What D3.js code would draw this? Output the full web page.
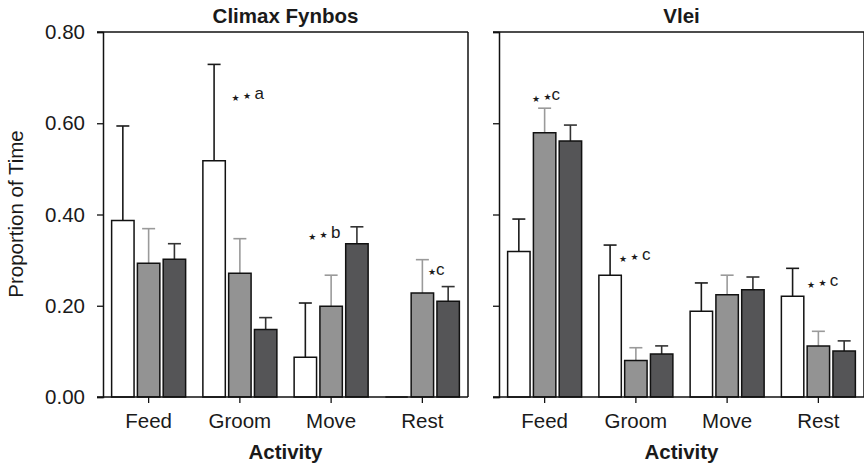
<!DOCTYPE html>
<html>
<head>
<meta charset="utf-8">
<script src="https://cdn.jsdelivr.net/npm/d3@7"></script>
<style>
  body { margin: 0; background: #fff; }
  svg { display: block; }
  text { font-family: "Liberation Sans", Arial, sans-serif; fill: #1a1a1a; }
</style>
</head>
<body>
<div id="chart"></div>
<script>
// categories and tick labels
var categories = ["Feed", "Groom", "Move", "Rest"];
var yTicks = [0, 0.2, 0.4, 0.6, 0.8];
var panelTitles = ["Climax Fynbos", "Vlei"];

// Climax Fynbos: mean proportion of time and upper error, three groups
var fynbosWhite = [0.387, 0.518, 0.087, 0.000];
var fynbosGray = [0.293, 0.271, 0.199, 0.228];
var fynbosDark = [0.302, 0.148, 0.336, 0.210];
var fynbosWhiteErr = [0.207, 0.211, 0.119, 0.000];
var fynbosGrayErr = [0.076, 0.076, 0.068, 0.073];
var fynbosDarkErr = [0.034, 0.026, 0.037, 0.032];

// Vlei
var vleiWhite = [0.319, 0.267, 0.188, 0.221];
var vleiGray = [0.579, 0.080, 0.224, 0.112];
var vleiDark = [0.561, 0.094, 0.235, 0.101];
var vleiWhiteErr = [0.071, 0.066, 0.062, 0.061];
var vleiGrayErr = [0.054, 0.028, 0.043, 0.032];
var vleiDarkErr = [0.035, 0.018, 0.028, 0.022];

// significance notes: category, bar it sits by, value of its baseline
var fynbosNotes = [
    {cat: "Groom", bar: 0, value: 0.644, text: "* * a"},
    {cat: "Move", bar: 1, value: 0.340, text: "* * b"},
    {cat: "Rest", bar: 1, value: 0.264, text: "*c"}
];
var vleiNotes = [
    {cat: "Feed", bar: 1, value: 0.642, text: "* *c"},
    {cat: "Groom", bar: 0, value: 0.2915, text: "* * c"},
    {cat: "Rest", bar: 0, value: 0.2345, text: "* * c"}
];
var fynbosNoteDx = [17.5, -23, 5.6];
var vleiNoteDx = [-12.6, 9, 14.4];

var fills = ["#ffffff", "#939393", "#555557"];
var errColors = ["#1a1a1a", "#9a9a9a", "#333333"];

var width = 864, height = 468;
var plotTop = 32, plotBottom = 397;
var panels = [
    {x0: 103, x1: 468, title: panelTitles[0],
     means: [fynbosWhite, fynbosGray, fynbosDark],
     errs: [fynbosWhiteErr, fynbosGrayErr, fynbosDarkErr],
     notes: fynbosNotes, noteDx: fynbosNoteDx, labels: true},
    {x0: 499, x1: 864, title: panelTitles[1],
     means: [vleiWhite, vleiGray, vleiDark],
     errs: [vleiWhiteErr, vleiGrayErr, vleiDarkErr],
     notes: vleiNotes, noteDx: vleiNoteDx, labels: false}
];

var svg = d3.select("#chart").append("svg")
    .attr("width", width)
    .attr("height", height);

var y = d3.scaleLinear().domain([0, 0.8]).range([plotBottom, plotTop]);
var xs = d3.scaleBand().domain([0, 1, 2]).range([-37, 37]).paddingInner(0.13);

panels.forEach(function(p) {
    var x = d3.scaleBand().domain(categories).range([p.x0, p.x1]);
    var g = svg.append("g");

    // bars
    var barData = [];
    categories.forEach(function(c, ci) {
        for (var s = 0; s < 3; s++) {
            barData.push({cat: c, s: s, v: p.means[s][ci], e: p.errs[s][ci]});
        }
    });
    function cx(d) { return x(d.cat) + x.bandwidth() / 2 + xs(d.s) + xs.bandwidth() / 2; }

    // error bars (upper only)
    var eb = g.selectAll(".err")
        .data(barData.filter(function(d) { return d.e > 0; }))
        .enter().append("g")
        .attr("class", "err")
        .style("stroke", function(d) { return errColors[d.s]; })
        .style("stroke-width", 1.6);
    eb.append("line")
        .attr("x1", cx).attr("x2", cx)
        .attr("y1", function(d) { return y(d.v); })
        .attr("y2", function(d) { return y(d.v + d.e); });
    eb.append("line")
        .attr("x1", function(d) { return cx(d) - 6.5; })
        .attr("x2", function(d) { return cx(d) + 6.5; })
        .attr("y1", function(d) { return y(d.v + d.e); })
        .attr("y2", function(d) { return y(d.v + d.e); });

    g.selectAll(".bar")
        .data(barData)
        .enter().append("path")
        .attr("class", "bar")
        .attr("d", function(d) {
            var xl = x(d.cat) + x.bandwidth() / 2 + xs(d.s);
            return "M" + xl + "," + y(0) + "V" + y(d.v) + "H" + (xl + xs.bandwidth()) + "V" + y(0) + "Z";
        })
        .style("fill", function(d) { return fills[d.s]; })
        .style("stroke", "#111")
        .style("stroke-width", 1.5);

    // frame
    g.append("line").attr("x1", p.x0 - 6).attr("x2", p.x1).attr("y1", plotTop).attr("y2", plotTop)
        .style("stroke", "#111").style("stroke-width", 1.5);
    g.append("line").attr("x1", p.x0 - 6).attr("x2", p.x1).attr("y1", plotBottom).attr("y2", plotBottom)
        .style("stroke", "#111").style("stroke-width", 1.5);
    g.append("line").attr("x1", p.x1).attr("x2", p.x1).attr("y1", plotTop).attr("y2", plotBottom)
        .style("stroke", "#111").style("stroke-width", 1.5);

    // y axis
    var yAxis = d3.axisLeft(y).tickValues(yTicks).tickSize(6).tickPadding(12)
        .tickFormat(p.labels ? d3.format(".2f") : "");
    var ya = g.append("g").attr("transform", "translate(" + p.x0 + ",0)").call(yAxis);
    ya.select(".domain").style("stroke", "#111").style("stroke-width", 1.5);
    ya.selectAll(".tick line").style("stroke", "#111").style("stroke-width", 1.3);
    ya.selectAll("text").style("font-size", "20.5px").style("fill", "#1a1a1a")
        .style("font-family", "'Liberation Sans', Arial, sans-serif");

    // x axis
    var xAxis = d3.axisBottom(x).tickSize(6).tickPadding(10.5);
    var xa = g.append("g").attr("transform", "translate(0," + plotBottom + ")").call(xAxis);
    xa.select(".domain").remove();
    xa.selectAll(".tick line").style("stroke", "#111").style("stroke-width", 1.3);
    xa.selectAll("text").style("font-size", "20.5px").style("fill", "#1a1a1a")
        .style("font-family", "'Liberation Sans', Arial, sans-serif");

    // titles
    g.append("text")
        .attr("x", (p.x0 + p.x1) / 2)
        .attr("y", 22.7)
        .style("text-anchor", "middle")
        .style("font-weight", "bold")
        .style("font-size", "20.5px")
        .text(p.title);
    g.append("text")
        .attr("x", (p.x0 + p.x1) / 2)
        .attr("y", 459)
        .style("text-anchor", "middle")
        .style("font-weight", "bold")
        .style("font-size", "20.5px")
        .text("Activity");

    // notes
    p.notes.forEach(function(n, i) {
        var t = g.append("text")
            .attr("x", cx({cat: n.cat, s: n.bar}) + p.noteDx[i])
            .attr("y", y(n.value));
        n.text.split("").forEach(function(ch) {
            if (ch == "*") {
                t.append("tspan")
                    .style("font-family", "'DejaVu Sans'")
                    .style("font-size", "9px")
                    .attr("dy", -2)
                    .text("\u2605");
                t.append("tspan").attr("dy", 2).style("font-size", "17px").text("");
            } else if (ch == " ") {
                t.append("tspan").style("font-size", "12px").text("\u00a0");
            } else {
                t.append("tspan").style("font-size", "17px").text(ch);
            }
        });
    });
});

// y axis title
svg.append("text")
    .attr("transform", "translate(23,214) rotate(-90)")
    .style("text-anchor", "middle")
    .style("font-size", "20.5px")
    .text("Proportion of Time");
</script>
</body>
</html>
